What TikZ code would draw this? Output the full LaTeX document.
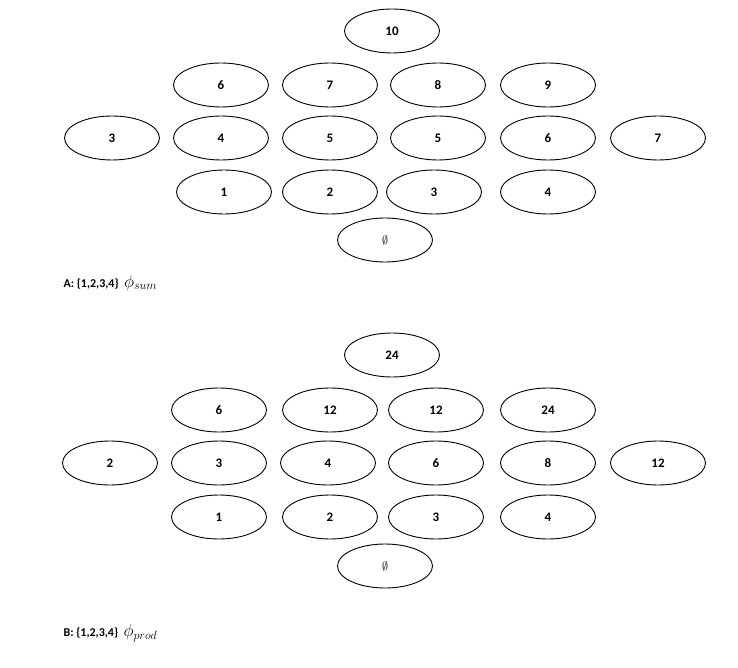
\documentclass[tikz,border=0pt]{standalone}
\usepackage{fontspec}
\setmainfont{Carlito}
\usetikzlibrary{shapes.geometric}
\begin{document}
\begin{tikzpicture}[x=1pt,y=-1pt,
  el/.style={ellipse,draw,line width=0.9pt,minimum width=95pt,minimum height=44pt,inner sep=0pt,font=\bfseries\fontsize{13}{13}\selectfont},
  lab/.style={anchor=west,font=\bfseries\fontsize{12}{12}\selectfont}]
\useasboundingbox (0,0) rectangle (738,668);
% panel A
\node[el] (a10) at (392,31) {10};
\node[el] (a6) at (221,85) {6};
\node[el] (a7) at (330,85) {7};
\node[el] (a8) at (438,85) {8};
\node[el] (a9) at (548,85) {9};
\node[el] (a3) at (112,138) {3};
\node[el] (a4) at (221,138) {4};
\node[el] (a5a) at (330,138) {5};
\node[el] (a5b) at (438,138) {5};
\node[el] (a6b) at (548,138) {6};
\node[el] (a7b) at (658,138) {7};
\node[el] (a1) at (224,192) {1};
\node[el] (a2) at (330,192) {2};
\node[el] (a3b) at (434,192) {3};
\node[el] (a4b) at (548,192) {4};
\node[el] (ae) at (385,240) {$\emptyset$};
\node[lab] (la) at (60,283) {A: \{1,2,3,4\}\ \ {\fontsize{17}{17}\selectfont$\phi_{sum}$}};
% panel B
\node[el] (b24) at (392,355) {24};
\node[el] (b6) at (219,410) {6};
\node[el] (b12a) at (330,410) {12};
\node[el] (b12b) at (436,410) {12};
\node[el] (b24b) at (548,410) {24};
\node[el] (b2) at (110,463) {2};
\node[el] (b3) at (219,463) {3};
\node[el] (b4) at (328,463) {4};
\node[el] (b6b) at (436,463) {6};
\node[el] (b8) at (548,463) {8};
\node[el] (b12c) at (658,463) {12};
\node[el] (b1) at (219,517) {1};
\node[el] (b2b) at (330,517) {2};
\node[el] (b3b) at (436,517) {3};
\node[el] (b4b) at (548,517) {4};
\node[el] (be) at (385,566) {$\emptyset$};
\node[lab] (lb) at (60,633) {B: \{1,2,3,4\}\ \ {\fontsize{17}{17}\selectfont$\phi_{prod}$}};
\end{tikzpicture}
\end{document}
